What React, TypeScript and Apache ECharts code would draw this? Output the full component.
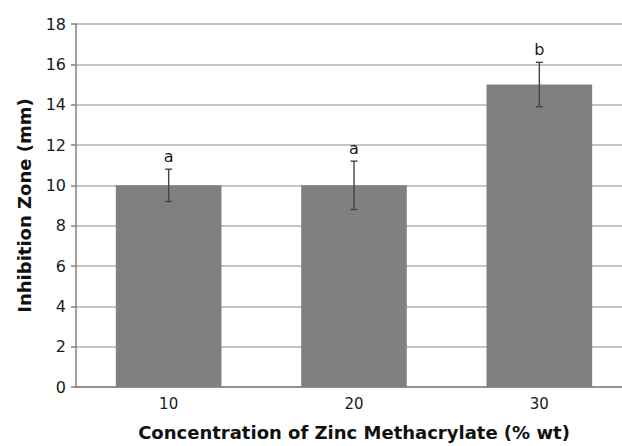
import React, { useEffect, useRef } from "react";
import * as echarts from "echarts";

const categories = ["10", "20", "30"];
const values = [10, 10, 15];
const errors = [0.8, 1.2, 1.1];
const letters = ["a", "a", "b"];
const yTicks = { min: 0, max: 18, interval: 2 };

export default function App() {
  const ref = useRef<HTMLDivElement>(null);
  useEffect(() => {
    const chart = echarts.init(ref.current!, null, { renderer: "svg" });
    const font = "'DejaVu Sans', sans-serif";
    chart.setOption({
      animation: false,
      backgroundColor: "#ffffff",
      grid: { left: 76, top: 24, bottom: 57, right: 0, containLabel: false },
      xAxis: {
        type: "category",
        data: categories,
        axisLine: { lineStyle: { color: "#808080", width: 1.5 } },
        axisTick: { show: false },
        axisLabel: { color: "#1a1a1a", fontSize: 15, fontFamily: font, margin: 9 },
        name: "Concentration of Zinc Methacrylate (% wt)",
        nameLocation: "middle",
        nameGap: 36,
        nameTextStyle: { color: "#111", fontSize: 18, fontWeight: "bold", fontFamily: font },
      },
      yAxis: {
        type: "value",
        min: yTicks.min,
        max: yTicks.max,
        interval: yTicks.interval,
        axisLine: { show: true, lineStyle: { color: "#808080", width: 1.5 } },
        axisTick: { show: true, length: 5, lineStyle: { color: "#808080", width: 1.5 } },
        axisLabel: { color: "#1a1a1a", fontSize: 16, fontFamily: font, margin: 10 },
        splitLine: { lineStyle: { color: "#c4c4c4", width: 2 } },
        name: "Inhibition Zone (mm)",
        nameLocation: "middle",
        nameGap: 43,
        nameTextStyle: { color: "#111", fontSize: 18, fontWeight: "bold", fontFamily: font },
      },
      series: [
        {
          type: "bar",
          data: values,
          barWidth: "57%",
          itemStyle: { color: "#808080" },
        },
        {
          type: "custom",
          data: values.map((v, i) => [i, v, errors[i]]),
          z: 10,
          renderItem: (params: any, api: any) => {
            const i = api.value(0);
            const v = api.value(1);
            const e = api.value(2);
            const top = api.coord([i, v + e]);
            const bot = api.coord([i, v - e]);
            const x = top[0];
            const cap = 3.5;
            const style = { stroke: "#444", lineWidth: 1.4 };
            return {
              type: "group",
              children: [
                { type: "line", shape: { x1: x, y1: top[1], x2: x, y2: bot[1] }, style },
                { type: "line", shape: { x1: x - cap, y1: top[1], x2: x + cap, y2: top[1] }, style },
                { type: "line", shape: { x1: x - cap, y1: bot[1], x2: x + cap, y2: bot[1] }, style },
                {
                  type: "text",
                  style: {
                    text: letters[params.dataIndex],
                    x,
                    y: top[1] - 5,
                    align: "center",
                    verticalAlign: "bottom",
                    fontSize: 16,
                    fontFamily: font,
                    fill: "#1a1a1a",
                  },
                },
              ],
            };
          },
        },
      ],
    });
    return () => chart.dispose();
  }, []);
  return (
    <div style={{ width: 622, height: 446, position: "absolute", left: 0, top: 0, overflow: "hidden" }}>
      <div ref={ref} style={{ width: 632, height: 446 }} />
    </div>
  );
}
